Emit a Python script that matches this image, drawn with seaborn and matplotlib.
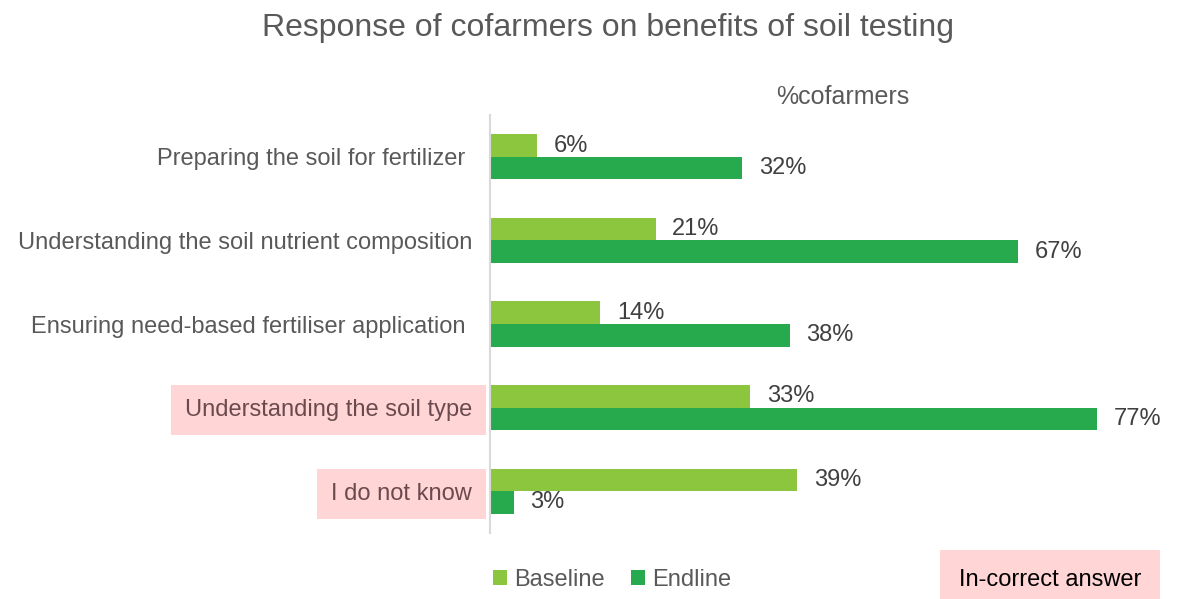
import pandas as pd
import matplotlib
matplotlib.use("Agg")
import matplotlib.pyplot as plt
import seaborn as sns

# Chart data (percent of cofarmers)
categories = [
    "Preparing the soil for fertilizer ",
    "Understanding the soil nutrient composition",
    "Ensuring need-based fertiliser application ",
    "Understanding the soil type",
    "I do not know",
]
baseline = [6, 21, 14, 33, 39]
endline = [32, 67, 38, 77, 3]
incorrect = ["Understanding the soil type", "I do not know"]

df = pd.DataFrame({
    "Category": categories * 2,
    "Value": baseline + endline,
    "Survey": ["Baseline"] * len(categories) + ["Endline"] * len(categories),
})

sns.set_style("white")
plt.rcParams["font.family"] = ["Liberation Sans", "DejaVu Sans"]

gray = "#595959"
pink = "#FFD5D6"
colors = {"Baseline": "#8CC63F", "Endline": "#27AA4E"}

fig = plt.figure(figsize=(11.78, 5.99), dpi=100)
ax = fig.add_axes([490 / 1178, 1 - 533 / 599, 670 / 1178, 418 / 599])

sns.barplot(data=df, y="Category", x="Value", hue="Survey", order=categories,
            palette=colors, orient="h", width=0.54, gap=0, saturation=1,
            linewidth=0, ax=ax, legend=True)

for cont in ax.containers:
    vals = [int(round(b.get_width())) for b in cont]
    ax.bar_label(cont, labels=[f"{v}%" for v in vals], padding=12,
                 fontsize=17, color="#404040")

ax.set_xlim(0, 85)
ax.set_ylim(4.5, -0.5)
ax.set_xlabel("")
ax.set_ylabel("")
ax.set_xticks([])
for s in ["top", "right", "bottom"]:
    ax.spines[s].set_visible(False)
ax.spines["left"].set_color("#D9D9D9")
ax.spines["left"].set_linewidth(1.5)
ax.tick_params(axis="y", length=0, pad=13, labelsize=17, labelcolor=gray)

for lab in ax.get_yticklabels():
    if lab.get_text() in incorrect:
        lab.set_color("#6B4A4E")
        lab.set_bbox(dict(facecolor=pink, edgecolor="none", pad=10))

leg = ax.legend(loc="center", bbox_to_anchor=(612 / 1178, 1 - 580 / 599),
                bbox_transform=fig.transFigure, ncol=2, frameon=False,
                fontsize=17, handlelength=0.6, handleheight=0.6,
                handletextpad=0.3, columnspacing=1.1)
for t in leg.get_texts():
    t.set_color(gray)

fig.text(608 / 1178, 1 - 28 / 599, "Response of cofarmers on benefits of soil testing",
         ha="center", va="center", fontsize=23, color=gray)
fig.text(843 / 1178, 1 - 97 / 599, "%cofarmers", ha="center", va="center",
         fontsize=18, color=gray)
fig.text(1050 / 1178, 1 - 580 / 599, "In-correct answer", ha="center", va="center",
         fontsize=17, color="black",
         bbox=dict(facecolor=pink, edgecolor="none", boxstyle="square,pad=0.8"))

fig.savefig("out.png", dpi=100)
